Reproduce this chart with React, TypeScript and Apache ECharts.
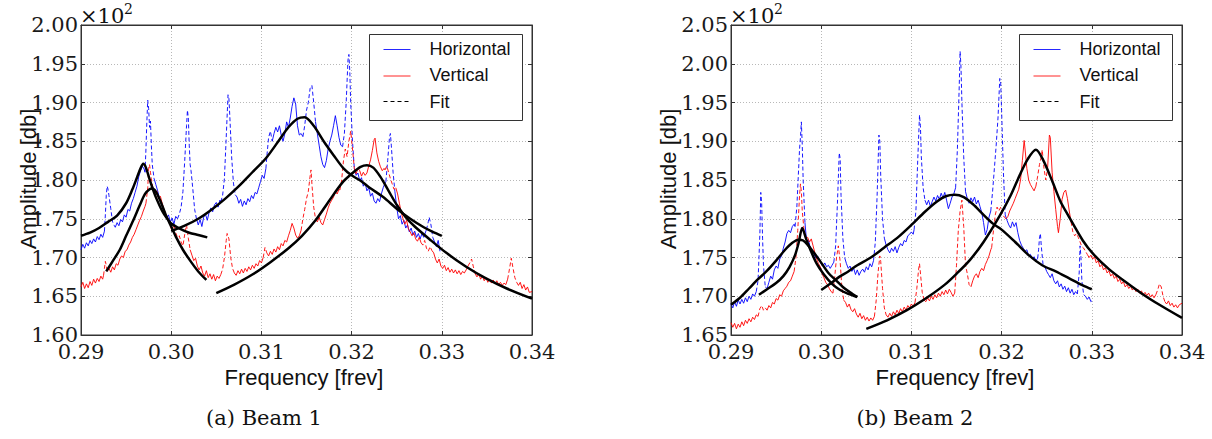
import React, { useEffect, useRef } from "react";
import * as echarts from "echarts";

type Pt = [number, number];
type Range = [number, number];

// ---------- axes ----------
const freqMin = 0.29;
const freqMax = 0.34;
const freqStep = 0.01;
const beam1AmpMin = 160;
const beam1AmpMax = 200;
const beam2AmpMin = 165;
const beam2AmpMax = 205;
const ampStep = 5;

const legendLabels = ["Horizontal", "Vertical", "Fit"];
const captions = ["(a) Beam 1", "(b) Beam 2"];
const xTitle = "Frequency [frev]";
const yTitle = "Amplitude [db]";

// ---------- Beam 1 : Horizontal ----------
const beam1Horizontal: Pt[] = [
  [0.29, 171.0], [0.2902, 171.7], [0.2904, 171.2], [0.2906, 171.9], [0.2908, 171.5], [0.291, 172.2], [0.2912, 171.8], [0.2914, 172.4], [0.2916, 172.0], [0.2918, 172.7], [0.292, 172.3], [0.2922, 173.0], [0.2924, 172.6], [0.2926, 173.4],
  [0.2927, 175.5], [0.2928, 178.0], [0.2929, 179.2], [0.293, 178.8], [0.2931, 178.0], [0.2933, 176.3], [0.2935, 174.6], [0.2937, 174.1], [0.2938, 173.9],
  [0.294, 174.5], [0.2942, 174.1], [0.2944, 174.9], [0.2946, 174.6], [0.2948, 175.5], [0.295, 175.2], [0.2952, 176.2], [0.2954, 176.0], [0.2956, 177.0], [0.2958, 177.6], [0.296, 178.4], [0.2962, 179.2], [0.2964, 180.4], [0.2966, 181.2], [0.2968, 181.8], [0.297, 181.4], [0.2971, 181.0],
  [0.2972, 184.0], [0.2973, 187.5], [0.2974, 190.3], [0.2975, 189.2], [0.2976, 186.8], [0.2977, 187.6], [0.2978, 184.5], [0.2979, 182.0], [0.2981, 180.2],
  [0.2983, 179.4], [0.2985, 178.6], [0.2987, 177.6], [0.2989, 177.1], [0.2991, 176.3], [0.2993, 175.9], [0.2995, 175.1], [0.2997, 175.5], [0.2999, 174.6], [0.3001, 175.1], [0.3003, 174.3], [0.3005, 175.3], [0.3007, 175.0],
  [0.3009, 175.6], [0.3011, 176.5], [0.3013, 178.5], [0.3015, 182.5], [0.3017, 187.0], [0.3018, 189.0], [0.3019, 188.0], [0.302, 184.5], [0.3021, 182.0], [0.3022, 181.2], [0.3024, 178.8], [0.3026, 176.2], [0.3028, 175.0],
  [0.303, 174.2], [0.3032, 174.9], [0.3034, 174.0], [0.3036, 175.2], [0.3038, 175.6], [0.304, 174.8], [0.3042, 175.8], [0.3044, 176.4], [0.3046, 175.9], [0.3048, 176.8], [0.305, 177.1], [0.3052, 176.5], [0.3054, 177.4], [0.3055, 177.2],
  [0.3057, 178.0], [0.3059, 180.2], [0.3061, 185.5], [0.3063, 191.0], [0.3064, 190.5], [0.3065, 188.2], [0.3067, 183.0], [0.3069, 179.6], [0.3071, 178.1],
  [0.3073, 177.8], [0.3075, 177.0], [0.3077, 177.5], [0.3079, 176.6], [0.3081, 177.3], [0.3083, 176.8], [0.3085, 177.6], [0.3087, 177.2], [0.3089, 178.0], [0.3091, 177.6], [0.3093, 178.4], [0.3095, 178.2], [0.3097, 179.0], [0.3099, 179.8], [0.3101, 180.6], [0.3103, 180.2], [0.3105, 181.5],
  [0.3106, 183.0], [0.3108, 185.5], [0.311, 186.3], [0.3112, 185.0],
  [0.3114, 186.0], [0.3116, 186.8], [0.3118, 186.2], [0.312, 187.0], [0.3122, 185.8], [0.3124, 185.0], [0.3126, 186.0], [0.3128, 187.5], [0.313, 186.8], [0.3132, 188.0], [0.3134, 189.5], [0.3136, 190.6], [0.3138, 189.8], [0.314, 187.0], [0.3142, 185.8], [0.3144, 186.0], [0.3146, 185.6],
  [0.3148, 187.0], [0.315, 189.0], [0.3152, 190.0], [0.3154, 191.8], [0.3156, 192.2], [0.3158, 190.0], [0.316, 187.5],
  [0.3162, 186.0], [0.3164, 184.5], [0.3166, 183.0], [0.3168, 182.0], [0.317, 181.6], [0.3172, 182.5], [0.3174, 184.0], [0.3176, 185.0], [0.3178, 185.8], [0.318, 187.0], [0.3182, 188.3], [0.3184, 187.0], [0.3186, 185.5], [0.3188, 184.5], [0.319, 184.3],
  [0.3192, 186.0], [0.3194, 190.0], [0.3196, 195.5], [0.3197, 196.2], [0.3198, 194.0], [0.3199, 190.0], [0.3201, 185.0], [0.3203, 181.5],
  [0.3205, 180.6], [0.3207, 180.9], [0.3209, 179.9], [0.3211, 180.3], [0.3213, 179.2], [0.3215, 179.6], [0.3217, 178.6], [0.3219, 179.0], [0.3221, 177.9], [0.3223, 178.3], [0.3225, 177.3], [0.3227, 177.0], [0.3229, 177.6], [0.3231, 177.2], [0.3233, 178.2], [0.3235, 179.0], [0.3237, 179.6], [0.3238, 179.8],
  [0.324, 182.5], [0.3242, 185.5], [0.3243, 186.0], [0.3244, 184.5], [0.3246, 181.0], [0.3248, 178.5],
  [0.325, 176.5], [0.3252, 175.0], [0.3254, 175.4], [0.3256, 174.3], [0.3258, 174.8], [0.326, 173.8], [0.3262, 174.2], [0.3264, 173.3], [0.3266, 173.8], [0.3268, 172.9], [0.327, 173.4], [0.3272, 172.6], [0.3274, 173.1], [0.3276, 172.4], [0.3278, 173.1], [0.328, 172.6], [0.3282, 173.3], [0.3283, 173.6],
  [0.3285, 174.6], [0.3286, 175.2], [0.3288, 174.2], [0.329, 172.6],
  [0.3292, 172.0], [0.3294, 171.4], [0.3296, 172.2], [0.3298, 170.8],
];
const beam1HorizontalDashed: Range[] = [
  [0.2926, 0.2938], [0.2971, 0.2981], [0.3007, 0.3028], [0.3055, 0.3071], [0.3105, 0.3112],
  [0.3146, 0.316], [0.319, 0.3203], [0.3238, 0.3248], [0.3283, 0.329],
];

// ---------- Beam 1 : Vertical ----------
const beam1Vertical: Pt[] = [
  [0.29, 166.2], [0.2902, 166.8], [0.2904, 166.0], [0.2906, 166.6], [0.2908, 166.1], [0.291, 166.9], [0.2912, 166.4], [0.2914, 167.2], [0.2916, 166.7], [0.2918, 167.3], [0.292, 166.9], [0.2922, 167.6], [0.2924, 167.2], [0.2925, 167.7],
  [0.2926, 168.6], [0.2927, 169.5], [0.2928, 169.0], [0.2929, 168.2],
  [0.2931, 168.6], [0.2933, 168.1], [0.2935, 168.8], [0.2937, 168.4], [0.2939, 169.2], [0.2941, 169.0], [0.2943, 169.8], [0.2945, 170.2], [0.2947, 170.0], [0.2949, 170.8], [0.2951, 171.0], [0.2953, 171.6], [0.2955, 172.0], [0.2957, 172.6], [0.2959, 173.0], [0.2961, 173.6], [0.2963, 174.2], [0.2965, 174.8], [0.2967, 175.3], [0.2969, 176.0], [0.2971, 176.6], [0.2972, 177.0],
  [0.2974, 179.0], [0.2975, 181.5], [0.2976, 182.0], [0.2977, 181.0], [0.2978, 180.2], [0.298, 178.8],
  [0.2982, 178.2], [0.2984, 178.6], [0.2986, 177.6], [0.2988, 177.9], [0.299, 177.0], [0.2992, 176.2], [0.2994, 175.6], [0.2996, 175.0], [0.2997, 174.8],
  [0.2999, 174.0], [0.3001, 173.5], [0.3003, 174.3], [0.3005, 173.2], [0.3007, 172.6], [0.3009, 172.8], [0.3011, 172.0], [0.3013, 171.5], [0.3015, 173.0], [0.3017, 174.2], [0.3019, 172.5], [0.3021, 171.0],
  [0.3023, 170.3], [0.3025, 169.6], [0.3027, 169.9], [0.3029, 168.9], [0.3031, 168.4], [0.3033, 168.9], [0.3035, 168.0], [0.3037, 167.6], [0.3039, 168.3], [0.3041, 167.4], [0.3043, 167.9], [0.3045, 167.2], [0.3047, 167.8], [0.3049, 167.0], [0.3051, 167.6], [0.3053, 167.3], [0.3055, 167.8],
  [0.3057, 168.5], [0.3059, 170.0], [0.3061, 172.2], [0.3062, 173.1], [0.3064, 172.4], [0.3066, 170.0], [0.3068, 168.6], [0.307, 168.0],
  [0.3072, 167.7], [0.3074, 168.3], [0.3076, 167.9], [0.3078, 168.5], [0.308, 168.0], [0.3082, 168.6], [0.3084, 168.2], [0.3086, 168.8], [0.3088, 168.4], [0.309, 169.0], [0.3092, 168.6], [0.3094, 169.2], [0.3096, 168.9], [0.3098, 169.6], [0.31, 169.3], [0.3102, 170.0],
  [0.3104, 171.3], [0.3106, 170.6],
  [0.3108, 170.2], [0.311, 170.8], [0.3112, 170.4], [0.3114, 171.1], [0.3116, 170.7], [0.3118, 171.4], [0.312, 171.0], [0.3122, 171.8], [0.3124, 171.5], [0.3126, 172.2], [0.3128, 172.0], [0.313, 172.8], [0.3132, 173.5], [0.3134, 174.4], [0.3136, 173.8], [0.3138, 172.9], [0.314, 172.5], [0.3142, 172.8], [0.3144, 173.5],
  [0.3146, 175.0], [0.3148, 176.2], [0.315, 177.6], [0.3152, 178.5], [0.3154, 180.5], [0.3155, 181.3], [0.3156, 179.5], [0.3158, 176.5], [0.316, 175.0],
  [0.3162, 174.6], [0.3164, 175.2], [0.3166, 174.5], [0.3168, 174.2], [0.317, 174.9], [0.3172, 175.6], [0.3174, 176.4], [0.3176, 177.0], [0.3178, 177.4], [0.318, 177.8], [0.3182, 178.5], [0.3184, 178.2], [0.3186, 178.8], [0.3187, 178.7],
  [0.3189, 180.0], [0.3191, 182.5], [0.3193, 184.0], [0.3195, 183.0], [0.3197, 185.0], [0.3199, 186.3], [0.3201, 184.0], [0.3203, 181.5],
  [0.3205, 180.8], [0.3207, 181.5], [0.3209, 181.2], [0.3211, 180.5], [0.3213, 181.0], [0.3215, 180.6], [0.3217, 180.9], [0.3219, 181.8], [0.3221, 182.6], [0.3223, 183.8], [0.3225, 185.2], [0.3226, 185.4], [0.3228, 183.5], [0.323, 182.4], [0.3232, 181.7], [0.3234, 181.2], [0.3236, 181.5], [0.3237, 181.3],
  [0.3239, 181.8], [0.3241, 181.0], [0.3243, 180.2], [0.3245, 179.5], [0.3247, 178.8], [0.3249, 179.0],
  [0.3251, 178.2], [0.3253, 177.0], [0.3255, 175.8], [0.3257, 175.0], [0.3259, 174.3], [0.3261, 174.8], [0.3263, 173.7], [0.3265, 173.3], [0.3267, 172.8], [0.3269, 173.2], [0.3271, 172.4], [0.3273, 172.1], [0.3275, 172.6], [0.3277, 171.9],
  [0.3279, 171.6], [0.3281, 172.2], [0.3283, 171.2], [0.3285, 170.8], [0.3287, 171.4], [0.3289, 170.9],
  [0.3291, 170.6], [0.3293, 169.8], [0.3295, 169.3], [0.3297, 169.8], [0.3299, 168.9], [0.3301, 168.6], [0.3303, 169.0], [0.3305, 168.3], [0.3307, 168.7], [0.3309, 168.1], [0.3311, 168.5], [0.3313, 168.0], [0.3315, 168.4], [0.3317, 167.9], [0.3319, 168.3], [0.3321, 167.8], [0.3323, 168.2], [0.3325, 168.0], [0.3327, 168.4], [0.3329, 168.9],
  [0.3331, 169.3], [0.3333, 169.8], [0.3335, 168.8], [0.3337, 167.9],
  [0.3339, 167.5], [0.3341, 167.9], [0.3343, 167.2], [0.3345, 167.6], [0.3347, 167.0], [0.3349, 167.4], [0.3351, 166.8], [0.3353, 167.2], [0.3355, 166.7], [0.3357, 167.1], [0.3359, 166.6], [0.3361, 167.0], [0.3363, 166.5], [0.3365, 166.8], [0.3367, 166.4], [0.3369, 166.7], [0.3371, 166.5], [0.3373, 167.2],
  [0.3375, 168.5], [0.3377, 169.9], [0.3379, 168.6], [0.3381, 167.4], [0.3383, 166.8],
  [0.3385, 166.4], [0.3387, 166.8], [0.3389, 166.0], [0.3391, 166.5], [0.3393, 165.8], [0.3395, 166.2], [0.3397, 165.5], [0.34, 165.6],
];
const beam1VerticalDashed: Range[] = [
  [0.2925, 0.2929], [0.2972, 0.298], [0.2997, 0.3021], [0.3055, 0.307], [0.3102, 0.3106], [0.3144, 0.316],
  [0.3187, 0.3203], [0.3237, 0.3249], [0.3277, 0.3289], [0.3329, 0.3337], [0.3373, 0.3383],
];

// ---------- Beam 1 : fits ----------
const beam1FitH1: Pt[] = [
  [0.29, 172.8], [0.291, 173.2], [0.292, 173.8], [0.293, 174.6], [0.294, 175.4], [0.295, 177.0], [0.2957, 178.8], [0.2962, 180.3], [0.2966, 181.5], [0.2969, 182.1],
  [0.2972, 181.6], [0.2976, 180.1], [0.298, 178.7], [0.2984, 177.5], [0.299, 176.0], [0.2995, 175.1], [0.3, 174.4], [0.301, 173.7], [0.302, 173.2], [0.303, 172.9], [0.304, 172.6],
];
const beam1FitV1: Pt[] = [
  [0.2928, 168.2], [0.2935, 169.5], [0.2943, 171.0], [0.295, 172.8], [0.2958, 174.8], [0.2965, 176.7], [0.2971, 178.2], [0.2976, 178.8], [0.2979, 178.9],
  [0.2983, 178.5], [0.2988, 177.3], [0.2994, 175.5], [0.3, 174.0], [0.3006, 172.5], [0.3013, 171.0], [0.3021, 169.6], [0.303, 168.2], [0.3039, 167.1],
];
const beam1FitH2: Pt[] = [
  [0.3, 173.4], [0.3015, 174.1], [0.303, 175.0], [0.3045, 176.2], [0.306, 177.6], [0.3075, 179.2], [0.309, 181.0], [0.3105, 182.8], [0.312, 185.2], [0.313, 186.8], [0.314, 187.9], [0.3148, 188.1],
  [0.3158, 187.0], [0.3169, 185.0], [0.318, 183.2], [0.3191, 181.5], [0.32, 180.6], [0.321, 179.9], [0.322, 179.0], [0.3235, 177.8], [0.325, 176.3], [0.3265, 175.0], [0.328, 173.9], [0.329, 173.3], [0.33, 172.8],
];
const beam1FitV2: Pt[] = [
  [0.305, 165.4], [0.307, 166.5], [0.309, 167.8], [0.311, 169.4], [0.313, 171.2], [0.3145, 172.8], [0.316, 174.8], [0.3175, 177.3], [0.319, 179.7], [0.3202, 181.0], [0.321, 181.7], [0.3217, 181.9],
  [0.3224, 181.6], [0.3232, 180.4], [0.3241, 178.6], [0.325, 176.8], [0.326, 175.2], [0.327, 174.0], [0.3287, 172.3], [0.3305, 170.6], [0.3327, 168.8], [0.3349, 167.3], [0.3372, 166.0], [0.34, 164.7],
];

// ---------- Beam 2 : Horizontal ----------
const beam2Horizontal: Pt[] = [
  [0.29, 169.0], [0.2902, 168.5], [0.2904, 169.3], [0.2906, 168.7], [0.2908, 169.5], [0.291, 169.0], [0.2912, 169.6], [0.2914, 169.1], [0.2916, 169.8], [0.2918, 169.3], [0.292, 170.0], [0.2922, 169.6], [0.2924, 170.3], [0.2926, 170.0], [0.2928, 170.6],
  [0.293, 172.0], [0.2932, 178.0], [0.2933, 183.4], [0.2934, 182.0], [0.2935, 177.5], [0.2936, 174.0], [0.2938, 171.2],
  [0.294, 171.0], [0.2942, 171.8], [0.2944, 172.6], [0.2946, 172.2], [0.2948, 173.4], [0.295, 173.9], [0.2952, 173.6], [0.2954, 174.8], [0.2956, 175.2], [0.2958, 176.2], [0.296, 177.0], [0.2962, 178.1], [0.2964, 178.5], [0.2966, 178.2], [0.2968, 179.0], [0.297, 179.3], [0.2971, 179.0],
  [0.2973, 181.5], [0.2975, 186.5], [0.2976, 189.0], [0.2977, 190.5], [0.2978, 192.5], [0.2979, 189.5], [0.298, 185.0], [0.2982, 179.5],
  [0.2984, 176.8], [0.2986, 177.2], [0.2988, 176.2], [0.299, 175.8], [0.2992, 175.4], [0.2994, 174.9], [0.2996, 175.2], [0.2998, 174.6], [0.3, 174.2], [0.3002, 173.9], [0.3004, 174.3], [0.3006, 173.8], [0.3008, 174.0], [0.301, 173.6], [0.3012, 174.0], [0.3014, 174.4],
  [0.3016, 176.5], [0.3018, 182.0], [0.302, 188.5], [0.3021, 187.8], [0.3022, 183.0], [0.3024, 177.5], [0.3026, 175.0],
  [0.3028, 174.2], [0.303, 173.6], [0.3032, 173.9], [0.3034, 173.2], [0.3036, 173.6], [0.3038, 172.8], [0.304, 173.4], [0.3042, 172.7], [0.3044, 173.2], [0.3046, 173.5], [0.3048, 173.1], [0.305, 173.8], [0.3052, 173.4], [0.3054, 174.2], [0.3056, 173.8], [0.3058, 174.6],
  [0.306, 177.0], [0.3062, 183.0], [0.3064, 190.8], [0.3065, 190.0], [0.3066, 185.5], [0.3068, 180.0], [0.307, 177.5],
  [0.3072, 176.6], [0.3074, 176.0], [0.3076, 175.6], [0.3078, 176.2], [0.308, 175.8], [0.3082, 176.4], [0.3084, 175.6], [0.3086, 176.3], [0.3088, 176.8], [0.309, 176.5], [0.3092, 177.2], [0.3094, 177.0], [0.3096, 177.8], [0.3098, 178.0], [0.31, 178.3], [0.3102, 178.0], [0.3103, 178.6],
  [0.3105, 181.0], [0.3107, 187.5], [0.3109, 193.4], [0.311, 192.0], [0.3111, 188.0], [0.3113, 184.0], [0.3115, 182.4],
  [0.3117, 181.8], [0.3119, 182.4], [0.3121, 181.6], [0.3123, 182.2], [0.3125, 182.8], [0.3127, 182.3], [0.3129, 183.0], [0.3131, 182.5], [0.3133, 183.3], [0.3135, 182.7], [0.3137, 183.4], [0.3139, 182.4], [0.3141, 181.3], [0.3143, 182.0], [0.3145, 182.8], [0.3147, 183.2], [0.3149, 184.0],
  [0.3151, 189.0], [0.3153, 197.0], [0.3154, 201.6], [0.3155, 199.5], [0.3156, 195.0], [0.3158, 188.0], [0.316, 183.5],
  [0.3162, 182.6], [0.3164, 182.0], [0.3166, 182.7], [0.3168, 182.2], [0.317, 182.8], [0.3172, 181.9], [0.3174, 182.4], [0.3176, 181.6], [0.3178, 180.8], [0.318, 179.5], [0.3182, 177.9], [0.3184, 178.6], [0.3186, 180.2], [0.3188, 181.0],
  [0.319, 183.5], [0.3192, 186.5], [0.3194, 189.5], [0.3196, 193.0], [0.3198, 198.1], [0.3199, 197.5], [0.32, 194.0], [0.3202, 186.0], [0.3204, 180.5],
  [0.3206, 179.8], [0.3208, 179.2], [0.321, 178.8], [0.3212, 179.6], [0.3214, 179.0], [0.3216, 179.5], [0.3218, 178.2], [0.322, 177.2], [0.3222, 176.6], [0.3224, 176.2], [0.3226, 175.8], [0.3228, 176.0], [0.323, 175.2], [0.3232, 175.4], [0.3234, 174.8], [0.3236, 175.1], [0.3238, 174.6], [0.324, 174.9],
  [0.3241, 176.0], [0.3242, 177.5], [0.3243, 178.1], [0.3244, 176.5], [0.3246, 174.0], [0.3248, 173.8],
  [0.325, 173.2], [0.3252, 172.8], [0.3254, 172.4], [0.3256, 172.9], [0.3258, 172.0], [0.326, 171.6], [0.3262, 172.0], [0.3264, 171.2], [0.3266, 171.6], [0.3268, 170.9], [0.327, 171.3], [0.3272, 170.6], [0.3274, 171.1], [0.3276, 170.4], [0.3278, 170.9], [0.328, 170.2], [0.3282, 170.6], [0.3284, 170.3],
  [0.3286, 173.0], [0.3287, 176.5], [0.3288, 175.0], [0.3289, 172.0], [0.3291, 170.2],
  [0.3293, 170.0], [0.3295, 169.6], [0.3297, 169.9], [0.3299, 169.3], [0.33, 169.4],
];
const beam2HorizontalDashed: Range[] = [
  [0.2928, 0.2938], [0.2971, 0.2982], [0.3014, 0.3026], [0.3058, 0.307], [0.3103, 0.3115],
  [0.3149, 0.316], [0.3188, 0.3204], [0.324, 0.3248], [0.3284, 0.3291],
];

// ---------- Beam 2 : Vertical ----------
const beam2Vertical: Pt[] = [
  [0.29, 166.6], [0.2902, 166.0], [0.2904, 166.5], [0.2906, 165.8], [0.2908, 166.4], [0.291, 166.0], [0.2912, 166.7], [0.2914, 166.2], [0.2916, 166.9], [0.2918, 166.5], [0.292, 167.1], [0.2922, 166.7], [0.2924, 167.3], [0.2926, 167.0], [0.2928, 167.6], [0.293, 167.4],
  [0.2932, 168.4], [0.2934, 168.8], [0.2936, 168.2], [0.2938, 168.5],
  [0.294, 168.2], [0.2942, 168.8], [0.2944, 168.5], [0.2946, 169.2], [0.2948, 169.0], [0.295, 169.7], [0.2952, 169.5], [0.2954, 170.2], [0.2956, 170.0], [0.2958, 170.7], [0.296, 171.0], [0.2962, 171.3], [0.2964, 171.8], [0.2966, 172.0], [0.2968, 172.6], [0.297, 173.2],
  [0.2972, 175.0], [0.2974, 178.5], [0.2976, 183.0], [0.2977, 184.5], [0.2978, 183.5], [0.2979, 181.0], [0.2981, 178.5], [0.2983, 177.5],
  [0.2985, 177.6], [0.2987, 177.0], [0.2989, 177.4], [0.2991, 176.5], [0.2993, 175.6], [0.2995, 174.8], [0.2997, 174.2], [0.2999, 173.8], [0.3001, 172.9], [0.3003, 172.4], [0.3005, 171.8], [0.3007, 171.5], [0.3009, 171.0], [0.3011, 170.6], [0.3013, 170.4],
  [0.3015, 172.5], [0.3017, 175.0], [0.3019, 176.5], [0.3021, 174.5], [0.3023, 171.0], [0.3025, 169.5],
  [0.3027, 169.2], [0.3029, 168.6], [0.3031, 169.0], [0.3033, 168.3], [0.3035, 168.0], [0.3037, 168.4], [0.3039, 167.7], [0.3041, 167.3], [0.3043, 167.8], [0.3045, 167.1], [0.3047, 167.5], [0.3049, 166.9], [0.3051, 167.3], [0.3053, 166.8], [0.3055, 167.2], [0.3057, 166.9], [0.3059, 167.4],
  [0.3061, 169.5], [0.3063, 173.0], [0.3065, 175.2], [0.3066, 174.5], [0.3068, 171.0], [0.307, 168.5], [0.3072, 167.6],
  [0.3074, 167.3], [0.3076, 167.8], [0.3078, 167.4], [0.308, 168.0], [0.3082, 167.6], [0.3084, 168.2], [0.3086, 167.8], [0.3088, 168.4], [0.309, 168.0], [0.3092, 168.6], [0.3094, 168.2], [0.3096, 168.8], [0.3098, 168.5], [0.31, 169.0], [0.3102, 168.7], [0.3104, 169.2],
  [0.3106, 171.0], [0.3108, 173.5], [0.3109, 174.2], [0.311, 173.0], [0.3112, 170.5], [0.3114, 169.5],
  [0.3116, 169.3], [0.3118, 169.8], [0.312, 169.4], [0.3122, 170.0], [0.3124, 169.6], [0.3126, 170.2], [0.3128, 169.8], [0.313, 170.4], [0.3132, 170.0], [0.3134, 170.6], [0.3136, 170.2], [0.3138, 170.8], [0.314, 170.3], [0.3142, 170.9], [0.3144, 170.5], [0.3146, 170.0], [0.3148, 170.4],
  [0.315, 174.0], [0.3152, 178.5], [0.3154, 181.0], [0.3156, 182.4], [0.3158, 179.0], [0.316, 174.0], [0.3162, 172.9], [0.3164, 171.5], [0.3166, 171.2],
  [0.3168, 172.0], [0.317, 172.6], [0.3172, 172.9], [0.3174, 172.4], [0.3176, 173.2], [0.3178, 173.6], [0.318, 173.3], [0.3182, 174.1], [0.3184, 174.6], [0.3186, 175.2], [0.3188, 176.0], [0.3189, 176.3],
  [0.3191, 178.5], [0.3193, 180.5], [0.3195, 181.5], [0.3197, 181.0], [0.3199, 181.5], [0.3201, 180.6], [0.3203, 180.2],
  [0.3205, 180.0], [0.3207, 180.3], [0.3209, 181.0], [0.3211, 181.5], [0.3213, 182.0], [0.3215, 182.6], [0.3217, 183.2], [0.3219, 183.8], [0.3221, 185.0], [0.3223, 187.5], [0.3225, 190.1], [0.3226, 189.0], [0.3228, 186.5], [0.323, 185.0], [0.3232, 184.4], [0.3234, 184.0], [0.3236, 183.6], [0.3238, 184.2],
  [0.324, 185.5], [0.3242, 187.0], [0.3244, 188.0], [0.3245, 188.9], [0.3247, 186.5], [0.3249, 185.0], [0.3251, 186.5],
  [0.3253, 190.8], [0.3254, 190.5], [0.3256, 186.0], [0.3258, 183.5], [0.326, 181.2], [0.3262, 179.0], [0.3263, 178.2], [0.3265, 180.0], [0.3267, 182.5], [0.3269, 183.4], [0.3271, 183.7], [0.3273, 182.6], [0.3275, 181.0], [0.3277, 179.6],
  [0.3279, 178.3], [0.3281, 177.8], [0.3283, 178.1], [0.3285, 177.6], [0.3287, 177.0], [0.3289, 176.4], [0.3291, 176.2], [0.3293, 175.8], [0.3295, 175.4],
  [0.3297, 175.0], [0.3299, 175.3], [0.3301, 174.8], [0.3303, 175.1], [0.3305, 174.3], [0.3307, 174.6], [0.3309, 173.8], [0.3311, 174.1], [0.3313, 173.4], [0.3315, 173.7], [0.3317, 173.0], [0.3319, 173.3], [0.3321, 172.6], [0.3323, 172.9], [0.3325, 172.3], [0.3327, 172.6], [0.3329, 171.9], [0.3331, 172.2], [0.3333, 171.6], [0.3335, 171.9], [0.3337, 171.2], [0.3339, 171.5], [0.3341, 171.0], [0.3343, 171.3], [0.3345, 170.8], [0.3347, 171.1], [0.3349, 170.6], [0.3351, 170.9], [0.3353, 170.4], [0.3355, 170.7], [0.3357, 170.2], [0.3359, 170.5], [0.3361, 170.1], [0.3363, 170.4], [0.3365, 169.9], [0.3367, 170.2], [0.3369, 169.8], [0.3371, 170.2],
  [0.3373, 170.8], [0.3375, 171.6], [0.3377, 171.2], [0.3379, 170.0], [0.3381, 169.3],
  [0.3383, 169.0], [0.3385, 169.4], [0.3387, 168.8], [0.3389, 169.1], [0.3391, 168.6], [0.3393, 168.9], [0.3395, 168.5], [0.3397, 168.9], [0.34, 169.1],
];
const beam2VerticalDashed: Range[] = [
  [0.293, 0.2938], [0.297, 0.2983], [0.3013, 0.3025], [0.3059, 0.3072], [0.3104, 0.3114], [0.3148, 0.3166],
  [0.3189, 0.3203], [0.3238, 0.3251], [0.3277, 0.3295], [0.3371, 0.3381],
];

// ---------- Beam 2 : fits ----------
const beam2FitH1: Pt[] = [
  [0.29, 168.9], [0.291, 169.8], [0.292, 171.0], [0.293, 172.2], [0.294, 173.3], [0.295, 174.6], [0.296, 176.0], [0.2968, 176.9], [0.2975, 177.3],
  [0.298, 177.2], [0.2986, 176.5], [0.2992, 175.6], [0.2999, 174.5], [0.3008, 173.0], [0.3016, 172.1], [0.3024, 171.2], [0.3032, 170.5], [0.304, 169.9],
];
const beam2FitV1: Pt[] = [
  [0.2931, 170.2], [0.294, 170.9], [0.295, 171.7], [0.2958, 172.6], [0.2965, 173.8], [0.2971, 175.3], [0.2975, 176.9], [0.2979, 178.8],
  [0.2983, 177.5], [0.2988, 176.0], [0.2995, 174.2], [0.3003, 172.8], [0.3012, 171.6], [0.3021, 170.8], [0.303, 170.3], [0.304, 169.9],
];
const beam2FitH2: Pt[] = [
  [0.3, 170.8], [0.301, 171.6], [0.302, 172.5], [0.303, 173.2], [0.304, 174.0], [0.3055, 175.0], [0.307, 176.3], [0.3085, 177.6], [0.31, 179.2], [0.3115, 180.9], [0.3128, 182.2], [0.3138, 182.9], [0.3148, 183.1],
  [0.3158, 182.8], [0.3168, 181.9], [0.318, 180.5], [0.319, 179.4], [0.32, 178.6], [0.3215, 177.0], [0.323, 175.3], [0.3245, 174.0], [0.326, 173.2], [0.3275, 172.3], [0.329, 171.4], [0.33, 170.9],
];
const beam2FitV2: Pt[] = [
  [0.305, 165.8], [0.3073, 166.9], [0.3095, 168.2], [0.3117, 169.8], [0.3136, 171.4], [0.315, 172.9], [0.3165, 174.7], [0.318, 177.0], [0.3198, 180.4], [0.321, 183.0], [0.322, 185.6], [0.3229, 187.7], [0.3238, 188.9],
  [0.3246, 187.6], [0.3257, 184.6], [0.3265, 182.3], [0.3273, 180.6], [0.329, 177.2], [0.3302, 175.4], [0.3319, 173.5], [0.3338, 171.8], [0.3356, 170.3], [0.3375, 168.9], [0.34, 167.2],
];

// ---------- styling ----------
const BLUE = "#0000ff";
const RED = "#ff0000";
const FRAME = "#333333";
const SERIF = "DejaVu Serif";
const SANS = "Liberation Sans";

const panels = [
  {
    left: 81, top: 25, width: 451, height: 310,
    yMin: beam1AmpMin, yMax: beam1AmpMax,
    h: beam1Horizontal, hDash: beam1HorizontalDashed,
    v: beam1Vertical, vDash: beam1VerticalDashed,
    fits: [beam1FitH1, beam1FitV1, beam1FitH2, beam1FitV2],
    yTitleX: 28, captionX: 264, xTitleX: 304,
  },
  {
    left: 731, top: 25, width: 451, height: 310,
    yMin: beam2AmpMin, yMax: beam2AmpMax,
    h: beam2Horizontal, hDash: beam2HorizontalDashed,
    v: beam2Vertical, vDash: beam2VerticalDashed,
    fits: [beam2FitH1, beam2FitV1, beam2FitH2, beam2FitV2],
    yTitleX: 668, captionX: 915, xTitleX: 955,
  },
];

function splitTrace(pts: Pt[], dashed: Range[]) {
  const runs: { dashed: boolean; pts: Pt[] }[] = [];
  for (let i = 0; i < pts.length - 1; i++) {
    const mid = (pts[i][0] + pts[i + 1][0]) / 2;
    const d = dashed.some(([a, b]) => mid > a && mid < b);
    const last = runs[runs.length - 1];
    if (last && last.dashed === d) last.pts.push(pts[i + 1]);
    else runs.push({ dashed: d, pts: [pts[i], pts[i + 1]] });
  }
  return runs;
}

function txt(text: string, x: number, y: number, size: number, family: string, align = "left", rotation = 0) {
  return {
    type: "text", x, y, rotation, z: 40,
    style: {
      text, fontSize: size, fontFamily: family, fill: "#111",
      textAlign: align, textVerticalAlign: "middle",
    },
  };
}

function buildOption() {
  const grid: any[] = [];
  const xAxis: any[] = [];
  const yAxis: any[] = [];
  const series: any[] = [];
  const graphic: any[] = [];

  panels.forEach((p, gi) => {
    grid.push({
      left: p.left, top: p.top, width: p.width, height: p.height,
      show: true, borderColor: FRAME, borderWidth: 1, backgroundColor: "transparent",
    });
    const tickStyle = { show: true, inside: true, length: 4, lineStyle: { color: FRAME, width: 1 } };
    const lineStyle = { show: true, lineStyle: { color: FRAME, width: 1 } };
    const split = { show: true, lineStyle: { color: "#b8b8b8", type: [1, 2], width: 1 } };
    xAxis.push({
      type: "value", gridIndex: gi, position: "bottom", min: freqMin, max: freqMax, interval: freqStep,
      axisLine: lineStyle, axisTick: tickStyle, splitLine: split,
      axisLabel: {
        show: true, showMinLabel: true, showMaxLabel: true, margin: 6,
        formatter: (v: number) => v.toFixed(2), fontFamily: SERIF, fontSize: 21, color: "#1a1a1a",
      },
    });
    xAxis.push({
      type: "value", gridIndex: gi, position: "top", min: freqMin, max: freqMax, interval: freqStep,
      axisLine: lineStyle, axisTick: tickStyle, splitLine: { show: false }, axisLabel: { show: false },
    });
    yAxis.push({
      type: "value", gridIndex: gi, position: "left", min: p.yMin, max: p.yMax, interval: ampStep,
      axisLine: lineStyle, axisTick: tickStyle, splitLine: split,
      axisLabel: {
        show: true, showMinLabel: true, showMaxLabel: true, margin: 3,
        formatter: (v: number) => (v / 100).toFixed(2), fontFamily: SERIF, fontSize: 21, color: "#1a1a1a",
      },
    });
    yAxis.push({
      type: "value", gridIndex: gi, position: "right", min: p.yMin, max: p.yMax, interval: ampStep,
      axisLine: lineStyle, axisTick: tickStyle, splitLine: { show: false }, axisLabel: { show: false },
    });
    const xi = gi * 2;
    const yi = gi * 2;

    const addTrace = (pts: Pt[], dash: Range[], color: string, z: number) => {
      splitTrace(pts, dash).forEach((run) => {
        series.push({
          type: "line", xAxisIndex: xi, yAxisIndex: yi, data: run.pts, symbol: "none",
          silent: true, z, clip: true,
          lineStyle: { color, width: 1, opacity: 0.9, type: run.dashed ? [4, 2.5] : "solid" },
        });
      });
    };
    addTrace(p.h, p.hDash, BLUE, 2);
    addTrace(p.v, p.vDash, RED, 3);
    p.fits.forEach((f) => {
      series.push({
        type: "line", xAxisIndex: xi, yAxisIndex: yi, data: f, symbol: "none", smooth: 0.3,
        silent: true, z: 4, clip: true, lineStyle: { color: "#000", width: 2.5 },
      });
    });

    // offset exponent, axis titles, caption
    graphic.push(txt("×10", p.left - 1, 16, 21, SERIF));
    graphic.push(txt("2", p.left + 43, 9, 14, SERIF));
    graphic.push(txt(yTitle, p.yTitleX, 179, 22, SANS, "center", Math.PI / 2));
    graphic.push(txt(xTitle, p.xTitleX, 377, 22, SANS, "center"));
    graphic.push(txt(captions[gi], p.captionX, 418, 21, SERIF, "center"));

    // legend
    const lx = p.left + 288.5;
    const ly = 34.5;
    graphic.push({
      type: "rect", z: 30, shape: { x: lx, y: ly, width: 153, height: 86 },
      style: { fill: "#fff", stroke: FRAME, lineWidth: 1 },
    });
    const rows = [
      { y: 49.5, color: BLUE, dash: null as any, ty: 48.5 },
      { y: 76, color: RED, dash: null as any, ty: 74.5 },
      { y: 101.5, color: "#000", dash: [4, 3], ty: 101.5 },
    ];
    rows.forEach((r, i) => {
      graphic.push({
        type: "line", z: 31, shape: { x1: lx + 14, y1: r.y, x2: lx + 41, y2: r.y },
        style: { stroke: r.color, lineWidth: 1, opacity: i < 2 ? 0.85 : 1, lineDash: r.dash || undefined },
      });
      graphic.push(txt(legendLabels[i], lx + 60, r.ty, 18, SANS));
    });
  });

  return { animation: false, backgroundColor: "#fff", grid, xAxis, yAxis, series, graphic };
}

export default function App() {
  const ref = useRef<HTMLDivElement>(null);
  useEffect(() => {
    if (!ref.current) return;
    const chart = echarts.init(ref.current, undefined, { renderer: "svg" });
    chart.setOption(buildOption() as any);
    return () => chart.dispose();
  }, []);
  return (
    <div
      ref={ref}
      style={{ position: "absolute", left: 0, top: 0, width: 1212, height: 439, background: "#fff" }}
    />
  );
}
